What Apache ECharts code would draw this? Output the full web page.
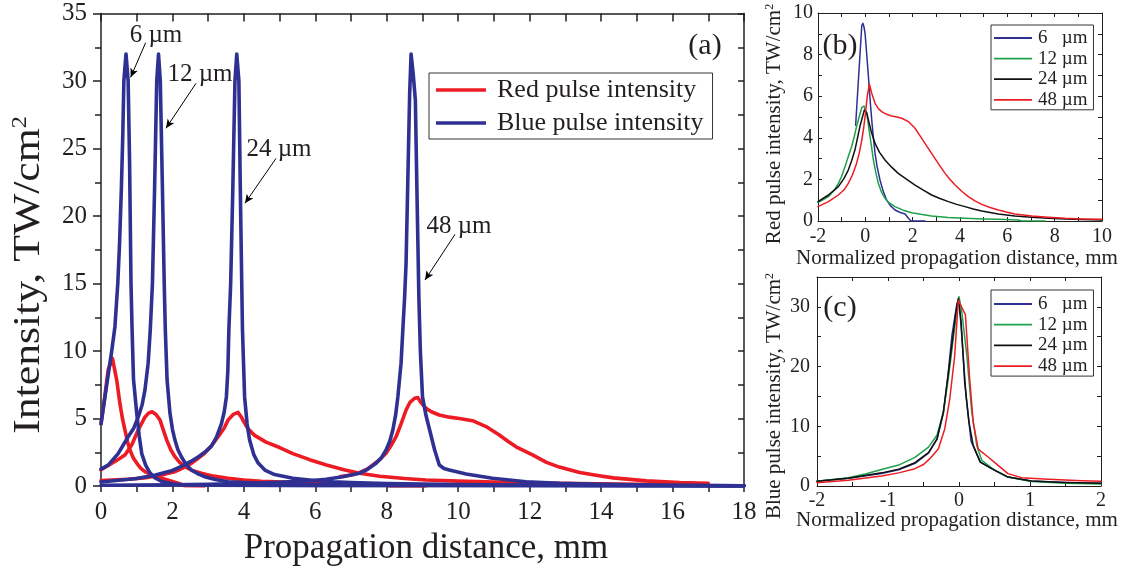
<!DOCTYPE html>
<html><head><meta charset="utf-8">
<script src="https://cdn.jsdelivr.net/npm/echarts@6/dist/echarts.min.js"></script>
<style>html,body{margin:0;padding:0;background:#fff}#c{width:1132px;height:574px}</style>
</head><body><div id="c"></div><script>
const FONT = 'Liberation Serif';
const INK = '#231f20';
const BLUE = '#2e3192', RED = '#ed1c24', GREEN = '#1fa04a', BLACK = '#111111';

// ---- panel (a): intensity vs propagation distance [mm, TW/cm2]
const aRed6 = [[0,4.6],[0.1,6.5],[0.2,8.6],[0.32,9.45],[0.44,7.85],[0.53,6.1],[0.6,5.0],[0.67,4.15],[0.74,3.3],[0.81,2.67],[0.9,2.1],[1.0,1.7],[1.1,1.35],[1.23,1.06],[1.45,0.78],[1.7,0.57],[1.95,0.37],[2.16,0.2],[2.35,0.02],[2.9,0.0]];
const aRed12 = [[0,1.2],[0.25,1.6],[0.5,2.0],[0.67,2.3],[0.86,3.04],[1.04,4.15],[1.15,4.7],[1.23,5.1],[1.33,5.4],[1.43,5.5],[1.54,5.3],[1.65,4.9],[1.75,4.1],[1.84,3.4],[1.95,2.7],[2.07,2.17],[2.2,1.75],[2.35,1.43],[2.55,1.15],[2.81,0.94],[3.15,0.73],[3.56,0.57],[4.0,0.45],[4.49,0.35],[5.5,0.25],[6.5,0.17],[7.5,0.1],[8.0,0.06],[8.1,0],[9.1,0]];
const aRed24 = [[0,0.4],[0.76,0.5],[1.2,0.6],[1.51,0.72],[1.8,0.88],[2.07,1.06],[2.3,1.35],[2.53,1.68],[2.72,2.05],[2.9,2.42],[3.1,3.0],[3.28,3.65],[3.45,4.3],[3.56,4.9],[3.7,5.3],[3.84,5.45],[3.93,5.1],[4.0,4.75],[4.11,4.25],[4.3,3.75],[4.62,3.25],[5.0,2.85],[5.37,2.4],[5.84,1.95],[6.31,1.55],[6.8,1.2],[7.24,0.94],[7.8,0.72],[8.5,0.55],[9.1,0.45],[10,0.36],[11,0.29],[12.8,0.2],[15,0.13],[17,0.08]];
const aRed48 = [[6.7,0.7],[7.0,0.82],[7.24,1.0],[7.45,1.25],[7.61,1.56],[7.8,1.95],[7.98,2.42],[8.12,3.0],[8.26,3.65],[8.4,4.6],[8.54,5.63],[8.65,6.2],[8.78,6.5],[8.87,6.55],[8.95,6.2],[9.1,5.75],[9.25,5.5],[9.47,5.26],[9.75,5.1],[10.03,5.0],[10.4,4.84],[10.78,4.4],[11.15,3.78],[11.4,3.3],[11.62,2.9],[12.08,2.3],[12.47,1.75],[12.83,1.4],[13.4,1.0],[13.9,0.78],[14.34,0.6],[15.27,0.38],[16.2,0.25],[17.0,0.2]];
const aBlue6 = [[0,4.6],[0.1,6.4],[0.2,8.2],[0.3,10],[0.39,11.8],[0.47,15],[0.52,18],[0.57,22],[0.61,26],[0.64,30],[0.7,32],[0.76,30],[0.8,24],[0.84,15],[0.87,11.6],[0.91,7.9],[1.0,5.4],[1.07,3.7],[1.14,2.4],[1.25,1.55],[1.37,0.98],[1.5,0.62],[1.7,0.33],[2.0,0.16],[2.3,0.08],[3.0,0.05],[6,0.03],[12,0.02],[18,0.01]];
const aBlue12 = [[0,1.25],[0.2,1.55],[0.48,2.4],[0.76,3.65],[0.92,4.3],[1.04,5.1],[1.15,6],[1.23,7.1],[1.32,9.1],[1.38,11.6],[1.44,15],[1.5,22],[1.56,30],[1.61,32],[1.66,30],[1.72,22],[1.77,15],[1.8,11.6],[1.85,7.85],[1.93,5.4],[2.0,4.2],[2.07,3.4],[2.15,2.7],[2.25,2.17],[2.38,1.6],[2.53,1.19],[2.7,0.92],[2.9,0.69],[3.2,0.48],[3.56,0.32],[4.0,0.25],[4.49,0.2],[6,0.1],[9,0.05],[18,0.01]];
const aBlue24 = [[0,0.3],[0.5,0.42],[1.0,0.55],[1.5,0.8],[2.0,1.15],[2.25,1.45],[2.5,1.8],[2.75,2.2],[2.95,2.6],[3.09,2.95],[3.23,3.6],[3.37,4.6],[3.45,5.5],[3.51,6.6],[3.55,8.5],[3.58,11.6],[3.63,15],[3.69,22],[3.75,30],[3.8,32],[3.86,30],[3.9,22],[3.94,15],[3.96,11.6],[4.02,6.6],[4.09,4.6],[4.16,3.4],[4.28,2.3],[4.4,1.7],[4.6,1.15],[4.86,0.85],[5.37,0.57],[5.84,0.44],[6.5,0.32],[7,0.26],[8,0.18],[10,0.1],[13,0.05],[18,0.01]];
const aBlue48 = [[0,0.05],[2,0.08],[3,0.12],[4,0.18],[5,0.28],[5.5,0.35],[6,0.42],[6.3,0.5],[6.77,0.69],[7.24,0.94],[7.43,1.19],[7.7,1.68],[7.85,2.1],[7.98,2.67],[8.08,3.3],[8.17,4.15],[8.25,5.3],[8.31,6.6],[8.4,9.1],[8.45,11.6],[8.5,14],[8.54,16.5],[8.6,24],[8.64,29],[8.68,32],[8.74,30.5],[8.8,28.6],[8.85,21],[8.9,13.8],[8.94,10],[9.0,6.6],[9.1,5.2],[9.2,4.15],[9.34,2.67],[9.47,1.56],[9.6,1.3],[9.75,1.19],[10.22,0.89],[10.96,0.57],[11.9,0.32],[12.83,0.2],[14,0.12],[16,0.05],[18,0.01]];

// ---- panel (b): red pulse vs normalized distance
const b6 = [[-0.41,4.6],[-0.28,7.0],[-0.15,9.4],[-0.1,9.5],[-0.05,9.3],[-0.01,9.0],[0.06,8.0],[0.13,6.94],[0.2,5.85],[0.27,4.86],[0.34,4.0],[0.41,3.25],[0.5,2.6],[0.62,1.97],[0.75,1.45],[0.9,1.0],[1.05,0.75],[1.25,0.53],[1.45,0.42],[1.68,0.34],[1.76,0.25],[1.82,0.13],[1.93,0],[2.52,0]];
const b12 = [[-2,0.88],[-1.56,1.17],[-1.3,1.5],[-1.14,1.81],[-1,2.15],[-0.86,2.61],[-0.72,3.1],[-0.58,3.57],[-0.47,4.05],[-0.37,4.54],[-0.25,5.05],[-0.15,5.45],[-0.06,5.53],[0.06,5.18],[0.13,4.6],[0.2,4.05],[0.27,3.5],[0.34,2.93],[0.45,2.3],[0.55,1.81],[0.68,1.4],[0.83,1.09],[1.0,0.88],[1.25,0.69],[1.6,0.52],[1.96,0.4],[2.4,0.31],[2.8,0.24],[3.5,0.17],[4.21,0.13],[5,0.1],[5.62,0.08],[6.46,0.05],[6.6,0.0],[7.59,0]];
const b24 = [[-2,0.93],[-1.56,1.25],[-1.14,1.65],[-0.9,2.05],[-0.72,2.45],[-0.58,2.9],[-0.44,3.41],[-0.33,4.0],[-0.23,4.54],[-0.12,5.0],[-0.04,5.34],[0.0,5.42],[0.06,5.2],[0.13,4.86],[0.25,4.3],[0.41,3.73],[0.6,3.3],[0.83,2.93],[1.1,2.6],[1.39,2.29],[1.75,2.0],[2.1,1.73],[2.45,1.48],[2.8,1.25],[3.15,1.08],[3.51,0.93],[3.86,0.8],[4.21,0.69],[4.56,0.58],[4.92,0.48],[5.27,0.41],[5.62,0.34],[6.32,0.24],[7.03,0.18],[7.73,0.13],[8.44,0.1],[9.14,0.07],[10,0.05]];
const b48 = [[-2,0.69],[-1.56,0.93],[-1.14,1.25],[-0.9,1.5],[-0.72,1.81],[-0.55,2.2],[-0.37,2.77],[-0.25,3.3],[-0.15,3.89],[-0.08,4.4],[-0.01,5.02],[0.08,5.98],[0.17,6.59],[0.27,6.14],[0.41,5.66],[0.55,5.4],[0.69,5.26],[0.9,5.13],[1.11,5.05],[1.33,5.0],[1.54,4.94],[1.82,4.78],[2.1,4.46],[2.3,4.12],[2.52,3.73],[2.73,3.37],[2.94,3.01],[3.15,2.65],[3.37,2.29],[3.58,2.0],[3.79,1.73],[4.07,1.43],[4.35,1.17],[4.63,0.97],[4.92,0.8],[5.27,0.65],[5.62,0.53],[6.0,0.42],[6.32,0.34],[7.03,0.24],[7.73,0.18],[8.44,0.13],[9.14,0.1],[10,0.08]];

// ---- panel (c): blue pulse vs normalized distance
const c6 = [[-2,0.8],[-1.56,1.3],[-1.09,2.1],[-0.85,2.7],[-0.62,3.8],[-0.43,5.5],[-0.31,7.8],[-0.22,12.2],[-0.16,18],[-0.1,25.2],[-0.03,30.5],[0,31.3],[0.04,25],[0.1,15],[0.17,7.5],[0.3,4.0],[0.46,2.9],[0.69,1.5],[1.02,0.85],[1.49,0.6],[2,0.45]];
const c12 = [[-2,0.8],[-1.56,1.4],[-1.32,2.0],[-1.09,2.75],[-0.85,3.5],[-0.62,4.8],[-0.43,6.5],[-0.31,8.5],[-0.22,12.4],[-0.15,18],[-0.08,24.7],[-0.02,30.3],[0,31.7],[0.04,29.1],[0.11,21.9],[0.18,12.4],[0.25,6.8],[0.32,4.3],[0.51,2.6],[0.69,1.5],[1.02,0.75],[1.49,0.45],[2,0.33]];
const c24 = [[-2,0.8],[-1.56,1.3],[-1.09,2.2],[-0.85,2.8],[-0.62,3.9],[-0.43,5.6],[-0.31,7.9],[-0.22,12.4],[-0.13,20.8],[-0.05,28.6],[-0.01,31.4],[0.03,27.5],[0.08,17.4],[0.14,10.7],[0.2,6.8],[0.3,4.0],[0.46,2.9],[0.69,1.5],[1.02,0.85],[1.49,0.6],[2,0.45]];
const c48 = [[-2,0.56],[-1.56,0.95],[-1.09,1.67],[-0.85,2.2],[-0.62,2.9],[-0.5,3.6],[-0.41,4.58],[-0.29,6.25],[-0.2,9.6],[-0.13,14.6],[-0.06,21.9],[-0.01,31.1],[0.09,28.7],[0.15,18],[0.2,10.7],[0.27,6.25],[0.32,5.7],[0.41,4.86],[0.55,3.46],[0.69,2.07],[0.88,1.4],[1.26,1.12],[1.73,0.89],[2,0.78]];

// legend names / annotation labels
const aNames = ['Red pulse intensity', 'Blue pulse intensity'];
const sizeNames = ['6   µm', '12 µm', '24 µm', '48 µm'];
const arrowLabels = ['6 µm', '12 µm', '24 µm', '48 µm'];
// arrows in (a) data coordinates: [from, to]
const arrows = [[[1.25,32.84],[0.83,30.27]],[[2.66,29.83],[1.82,26.5]],[[4.9,24.27],[4.03,20.94]],[[9.91,18.64],[9.07,15.26]]];

function ser(name, data, color, width, idx, extra) {
  return Object.assign({type:'line', name, data, xAxisIndex: idx * 2, yAxisIndex: idx * 2, symbol:'none', smooth:false,
    lineStyle:{color, width, join:'round', cap:'round'}, itemStyle:{color}, animation:false}, extra || {});
}
function ax(o) {
  const base = {type:'value', splitLine:{show:false},
    axisLine:{show:true, onZero:false, lineStyle:{color:INK, width:o.lw}},
    axisTick:{show:true, inside:o.inside, length:o.tl, lineStyle:{color:INK, width:o.lw}},
    axisLabel:{show:!!o.fmt, margin:o.margin, fontFamily:FONT, fontSize:o.fs, color:INK, formatter:o.fmt}};
  delete o.lw; delete o.inside; delete o.tl; delete o.fmt; delete o.margin; delete o.fs;
  return Object.assign(base, o);
}
const even = v => (Math.round(v) % 2 === 0 ? String(v) : '');

const xAxis = [
  ax({gridIndex:0, min:0, max:18, interval:1, position:'bottom', lw:1.5, inside:false, tl:6, fmt:even, margin:14, fs:25}),
  ax({gridIndex:0, min:0, max:18, interval:1, position:'top', lw:1.5, inside:true, tl:8}),
  ax({gridIndex:1, min:-2, max:10, interval:1, position:'bottom', lw:1, inside:true, tl:4, fmt:even, margin:6, fs:20}),
  ax({gridIndex:1, min:-2, max:10, interval:1, position:'top', lw:1, inside:true, tl:4}),
  ax({gridIndex:2, min:-2, max:2, interval:0.5, position:'bottom', lw:1, inside:true, tl:4, fmt:v => (Number.isInteger(v) ? String(v) : ''), margin:5, fs:20}),
  ax({gridIndex:2, min:-2, max:2, interval:0.5, position:'top', lw:1, inside:true, tl:4})
];
const yAxis = [
  Object.assign(ax({gridIndex:0, min:0, max:35, interval:5, position:'left', lw:1.5, inside:false, tl:8, fmt:v => String(v), margin:14, fs:25}),
    {minorTick:{show:true, splitNumber:2, length:6, lineStyle:{color:INK, width:1.5}}}),
  ax({gridIndex:0, min:0, max:35, interval:2.5, position:'right', lw:1.5, inside:true, tl:6}),
  ax({gridIndex:1, min:0, max:10, interval:1, position:'left', lw:1, inside:true, tl:4, fmt:even, margin:5, fs:20}),
  ax({gridIndex:1, min:0, max:10, interval:1, position:'right', lw:1, inside:true, tl:4}),
  ax({gridIndex:2, min:0, max:35, interval:5, position:'left', lw:1, inside:true, tl:4, fmt:v => (v % 10 === 0 ? String(v) : ''), margin:7, fs:20}),
  ax({gridIndex:2, min:0, max:35, interval:5, position:'right', lw:1, inside:true, tl:4})
];

const W_A = 3.6, W_B = 1.5;
const series = [
  ser(aNames[0], aRed6, RED, W_A, 0), ser(aNames[0], aRed12, RED, W_A, 0),
  ser(aNames[0], aRed24, RED, W_A, 0), ser(aNames[0], aRed48, RED, W_A, 0),
  ser(aNames[1], aBlue6, BLUE, W_A, 0, {
    markLine:{silent:true, animation:false, symbol:['none','arrow'], symbolSize:[6,9], label:{show:false},
      lineStyle:{color:'#000', width:1, type:'solid'},
      emphasis:{disabled:true},
      data: arrows.map(a => [{coord:a[0]}, {coord:a[1]}])}
  }),
  ser(aNames[1], aBlue12, BLUE, W_A, 0), ser(aNames[1], aBlue24, BLUE, W_A, 0), ser(aNames[1], aBlue48, BLUE, W_A, 0),
  ser(sizeNames[0], b6, BLUE, W_B, 1), ser(sizeNames[1], b12, GREEN, W_B, 1),
  ser(sizeNames[2], b24, BLACK, W_B, 1), ser(sizeNames[3], b48, RED, W_B, 1),
  ser(sizeNames[0], c6, BLUE, W_B, 2), ser(sizeNames[1], c12, GREEN, W_B, 2),
  ser(sizeNames[2], c24, BLACK, W_B, 2), ser(sizeNames[3], c48, RED, W_B, 2)
];

function txt(text, x, y, size, rot, sx) {
  return {type:'text', x, y, rotation: rot || 0, scaleX: sx || 1, silent:true,
    style:{text, font: size + 'px "' + FONT + '"', fill: INK, align:'center', verticalAlign:'middle',
      rich:{s:{fontFamily:FONT, fontSize: Math.round(size * 0.55), fill: INK, verticalAlign:'top'}}}};
}
const graphic = [
  txt('Intensity, TW/cm{s|2}', 29, 275, 38, Math.PI/2, 1.15),
  txt('Propagation distance, mm', 426, 549, 35),
  txt('Red pulse intensity, TW/cm{s|2}', 774, 124, 21, Math.PI/2),
  txt('Normalized propagation distance, mm', 957, 258, 21),
  txt('Blue pulse intensity, TW/cm{s|2}', 774, 396, 21, Math.PI/2),
  txt('Normalized propagation distance, mm', 957, 520, 21),
  txt('(a)', 705, 46, 30), txt('(b)', 840, 46, 30), txt('(c)', 840, 308, 30),
  txt(arrowLabels[0], 156, 35, 25), txt(arrowLabels[1], 200, 74, 25),
  txt(arrowLabels[2], 279, 149, 25), txt(arrowLabels[3], 459, 226, 25)
];

const legStyle = (fs, lh, pad) => ({fontFamily:FONT, fontSize:fs, lineHeight:lh, color:INK, padding:pad});
const legend = [
  {data: aNames, orient:'vertical', left:429, top:73, icon:'rect', itemWidth:50, itemHeight:3.6, itemGap:7,
   padding:[4,9,3,7], borderColor:'#333', borderWidth:1, backgroundColor:'#fff', selectedMode:false,
   textStyle: legStyle(26, 26, [0,0,0,6])},
  {data: sizeNames, orient:'vertical', left:991, top:25, icon:'rect', itemWidth:38, itemHeight:1.8, itemGap:0.6,
   padding:[3,6,0,3], borderColor:'#333', borderWidth:1, backgroundColor:'#fff', selectedMode:false,
   textStyle: legStyle(19, 20, [0,0,0,1])},
  {data: sizeNames, orient:'vertical', left:991, top:290, icon:'rect', itemWidth:38, itemHeight:1.8, itemGap:0.7,
   padding:[4,6,0,3], borderColor:'#333', borderWidth:1, backgroundColor:'#fff', selectedMode:false,
   textStyle: legStyle(19, 20, [0,0,0,1])}
];

const chart = echarts.init(document.getElementById('c'), null, {renderer:'canvas'});
chart.setOption({
  backgroundColor:'#fff', animation:false,
  grid:[
    {left:101, top:13.5, width:643, height:472.5},
    {left:818, top:13, width:284, height:208},
    {left:817, top:277, width:284, height:209}
  ],
  xAxis, yAxis, series, legend, graphic
});
</script></body></html>
